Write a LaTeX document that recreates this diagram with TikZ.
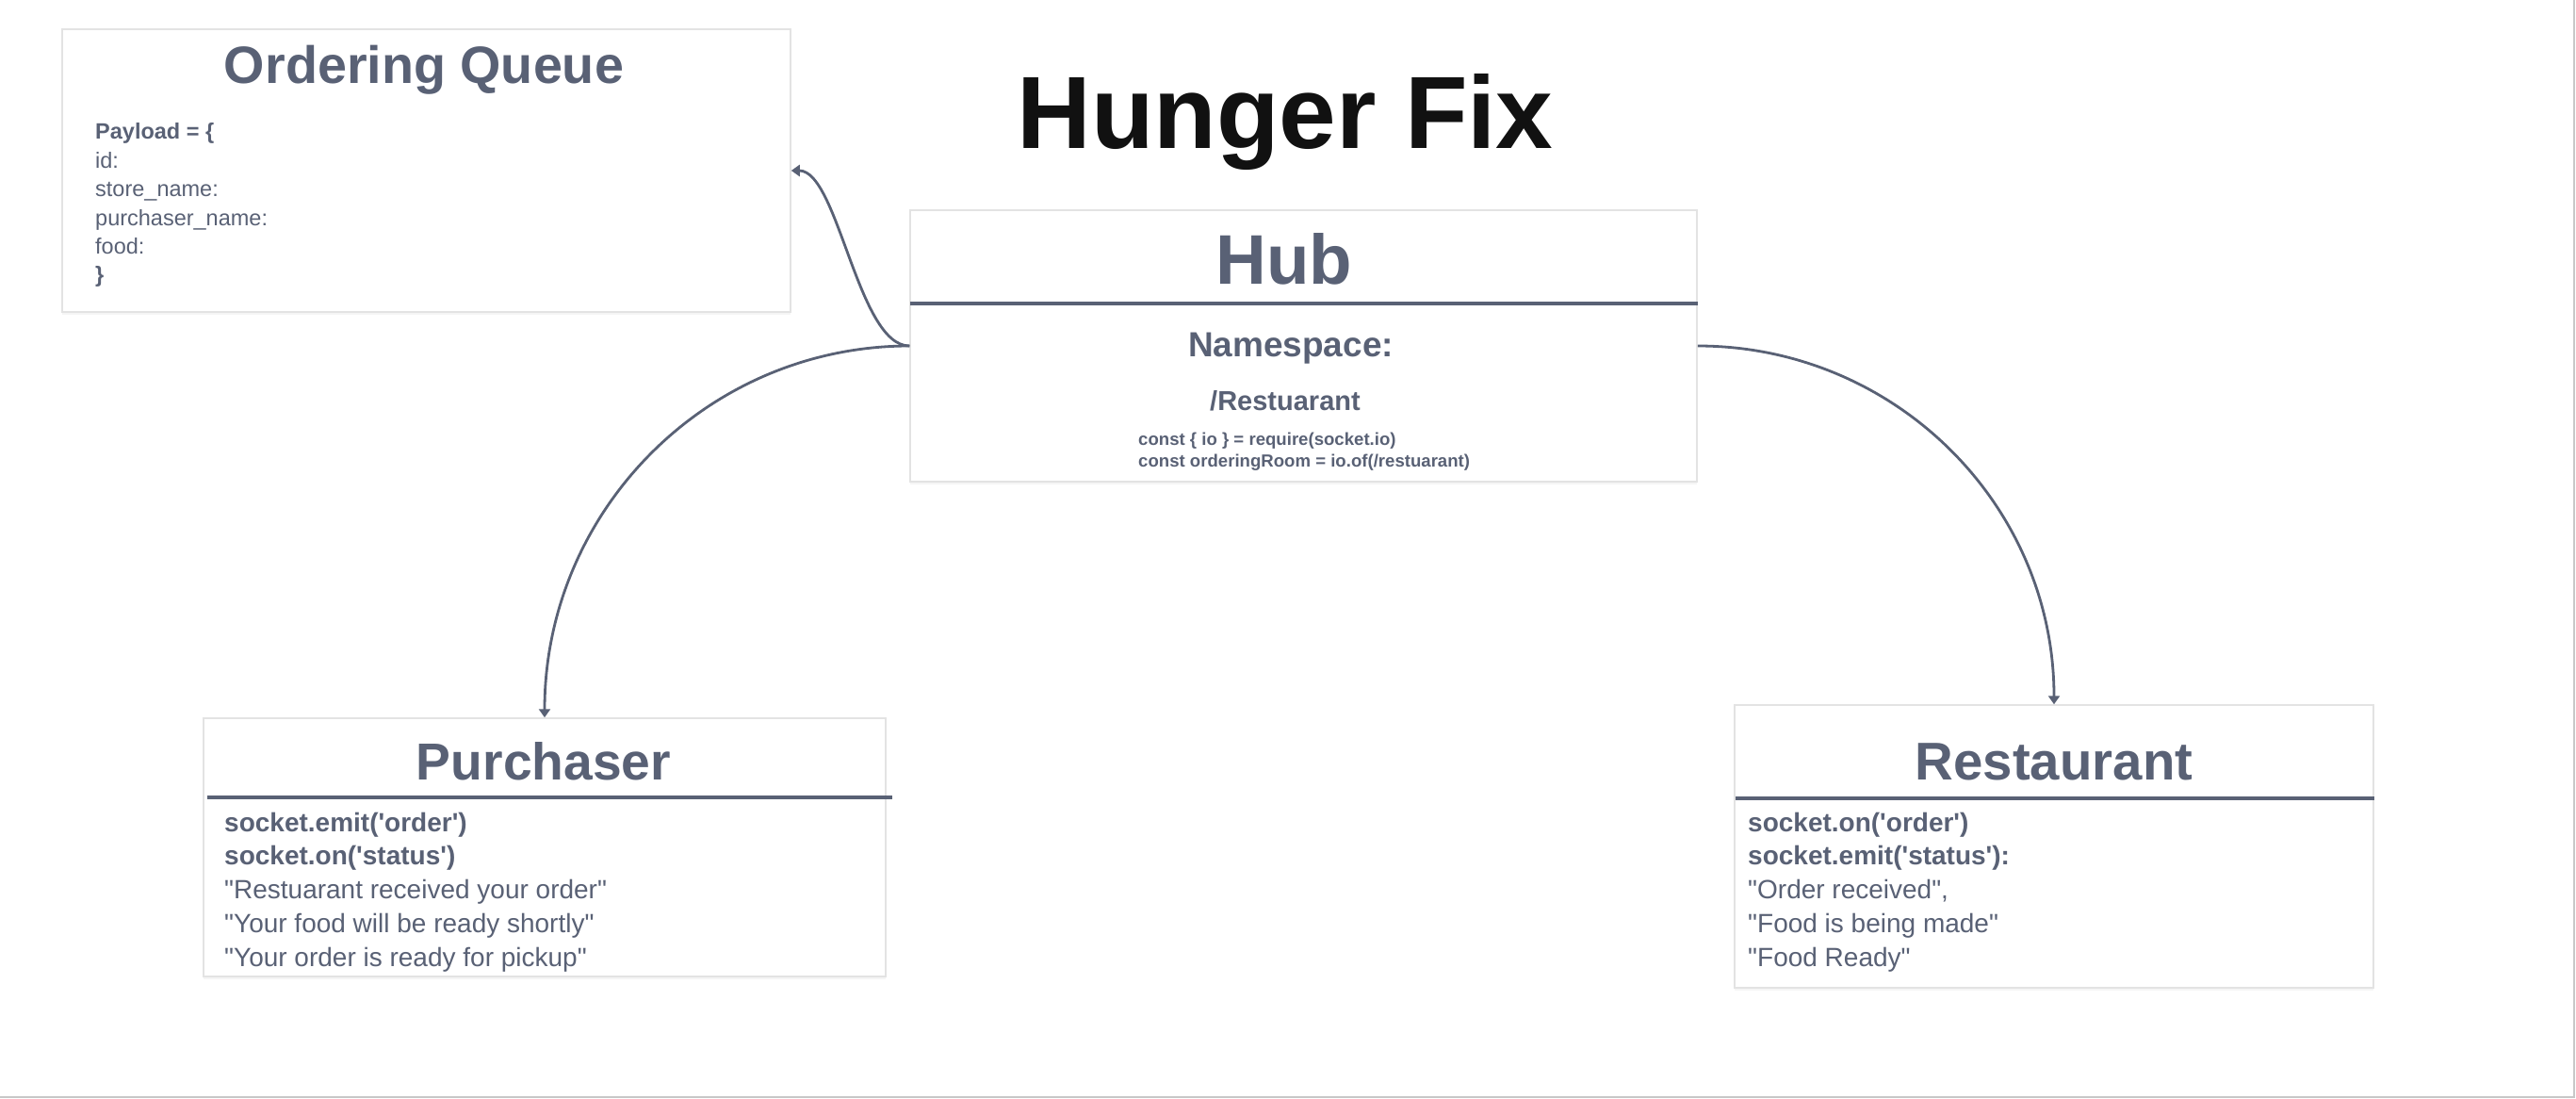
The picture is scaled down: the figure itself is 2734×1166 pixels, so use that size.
\documentclass[tikz,border=0pt]{standalone}
\usepackage{fontspec}
\setmainfont{Liberation Sans}[Ligatures=TeXOff]
\usetikzlibrary{arrows.meta,shadows}
\definecolor{slate}{HTML}{596175}
\definecolor{boxline}{HTML}{E3E3E3}
\definecolor{titleblk}{HTML}{111111}
\definecolor{pageedge}{HTML}{C8C8C8}
\begin{document}
\begin{tikzpicture}[x=1pt,y=-1pt,
  box/.style={draw=boxline, line width=1.5pt, fill=white, inner sep=0pt,
    drop shadow={opacity=0.08, shadow xshift=0pt, shadow yshift=-3pt}},
  conn/.style={draw=slate, line width=2.8pt, -{Triangle[length=9pt,width=12pt]}},
  divider/.style={draw=slate, line width=3.2pt},
  ttl/.style={text=slate, anchor=base, inner sep=0pt},
  txt/.style={text=slate, anchor=base west, inner sep=0pt},
]
\useasboundingbox (0,0) rectangle (2734,1166);
\fill[white] (0,0) rectangle (2734,1166);
\draw[pageedge, line width=1.5pt] (0,1164) -- (2732,1164) -- (2732,0);

% boxes
\node[box, minimum width=773pt, minimum height=300pt] (oq) at (452.5,181) {};
\node[box, minimum width=835pt, minimum height=288pt] (hub) at (1383.5,367) {};
\node[box, minimum width=724pt, minimum height=274pt] (purch) at (578,899) {};
\node[box, minimum width=678pt, minimum height=300pt] (rest) at (2180,898) {};

% dividers
\draw[divider] (966,322) -- (1802,322);
\draw[divider] (220,846) -- (947,846);
\draw[divider] (1842,847) -- (2520,847);

% connectors
\draw[conn] (hub.west) .. controls +(-55,0) and +(50,0) .. (oq.east);
\draw[conn] (hub.west) .. controls +(-215,0) and +(0,-219) .. (purch.north);
\draw[conn] (hub.east) .. controls +(210,0) and +(0,-211) .. (rest.north);

% title
\node[ttl, text=titleblk, font=\fontsize{109}{120}\selectfont\bfseries] (title) at (1364,158) {Hunger Fix};

% ordering queue
\node[ttl, font=\fontsize{55.7}{62}\selectfont\bfseries] (oqt) at (450,89) {Ordering Queue};
\node[txt, font=\fontsize{23.5}{28}\selectfont\bfseries] (pl0) at (101,148) {Payload = \{};
\node[txt, font=\fontsize{23.5}{28}\selectfont] (pl1) at (101,178.5) {id:};
\node[txt, font=\fontsize{23.5}{28}\selectfont] (pl2) at (101,209) {store\_name:};
\node[txt, font=\fontsize{23.5}{28}\selectfont] (pl3) at (101,239.5) {purchaser\_name:};
\node[txt, font=\fontsize{23.5}{28}\selectfont] (pl4) at (101,270) {food:};
\node[txt, font=\fontsize{23.5}{28}\selectfont\bfseries] (pl5) at (101,300) {\}};

% hub
\node[ttl, font=\fontsize{74.5}{80}\selectfont\bfseries] (hubt) at (1363,302) {Hub};
\node[ttl, font=\fontsize{37}{42}\selectfont\bfseries] (ns) at (1370,378) {Namespace:};
\node[ttl, font=\fontsize{29}{34}\selectfont\bfseries] (nsr) at (1364,435) {/Restuarant};
\node[txt, font=\fontsize{18.6}{22}\selectfont\bfseries] (c1) at (1208,472) {const \{ io \} = require(socket.io)};
\node[txt, font=\fontsize{18.6}{22}\selectfont\bfseries] (c2) at (1208,495) {const orderingRoom = io.of(/restuarant)};

% purchaser
\node[ttl, font=\fontsize{55.2}{60}\selectfont\bfseries] (pt) at (577,827) {Purchaser};
\node[txt, font=\fontsize{28}{33}\selectfont\bfseries] (p1) at (238,882) {socket.emit('order')};
\node[txt, font=\fontsize{28}{33}\selectfont\bfseries] (p2) at (238,917.5) {socket.on('status')};
\node[txt, font=\fontsize{28}{33}\selectfont] (p3) at (238,953) {"Restuarant received your order"};
\node[txt, font=\fontsize{28}{33}\selectfont] (p4) at (238,989) {"Your food will be ready shortly"};
\node[txt, font=\fontsize{28}{33}\selectfont] (p5) at (238,1025) {"Your order is ready for pickup"};

% restaurant
\node[ttl, font=\fontsize{56.4}{60}\selectfont\bfseries] (rt) at (2180,827) {Restaurant};
\node[txt, font=\fontsize{28}{33}\selectfont\bfseries] (r1) at (1855,882) {socket.on('order')};
\node[txt, font=\fontsize{28}{33}\selectfont\bfseries] (r2) at (1855,917.5) {socket.emit('status'):};
\node[txt, font=\fontsize{28}{33}\selectfont] (r3) at (1855,953) {"Order received",};
\node[txt, font=\fontsize{28}{33}\selectfont] (r4) at (1855,989) {"Food is being made"};
\node[txt, font=\fontsize{28}{33}\selectfont] (r5) at (1855,1025) {"Food Ready"};
\end{tikzpicture}
\end{document}
